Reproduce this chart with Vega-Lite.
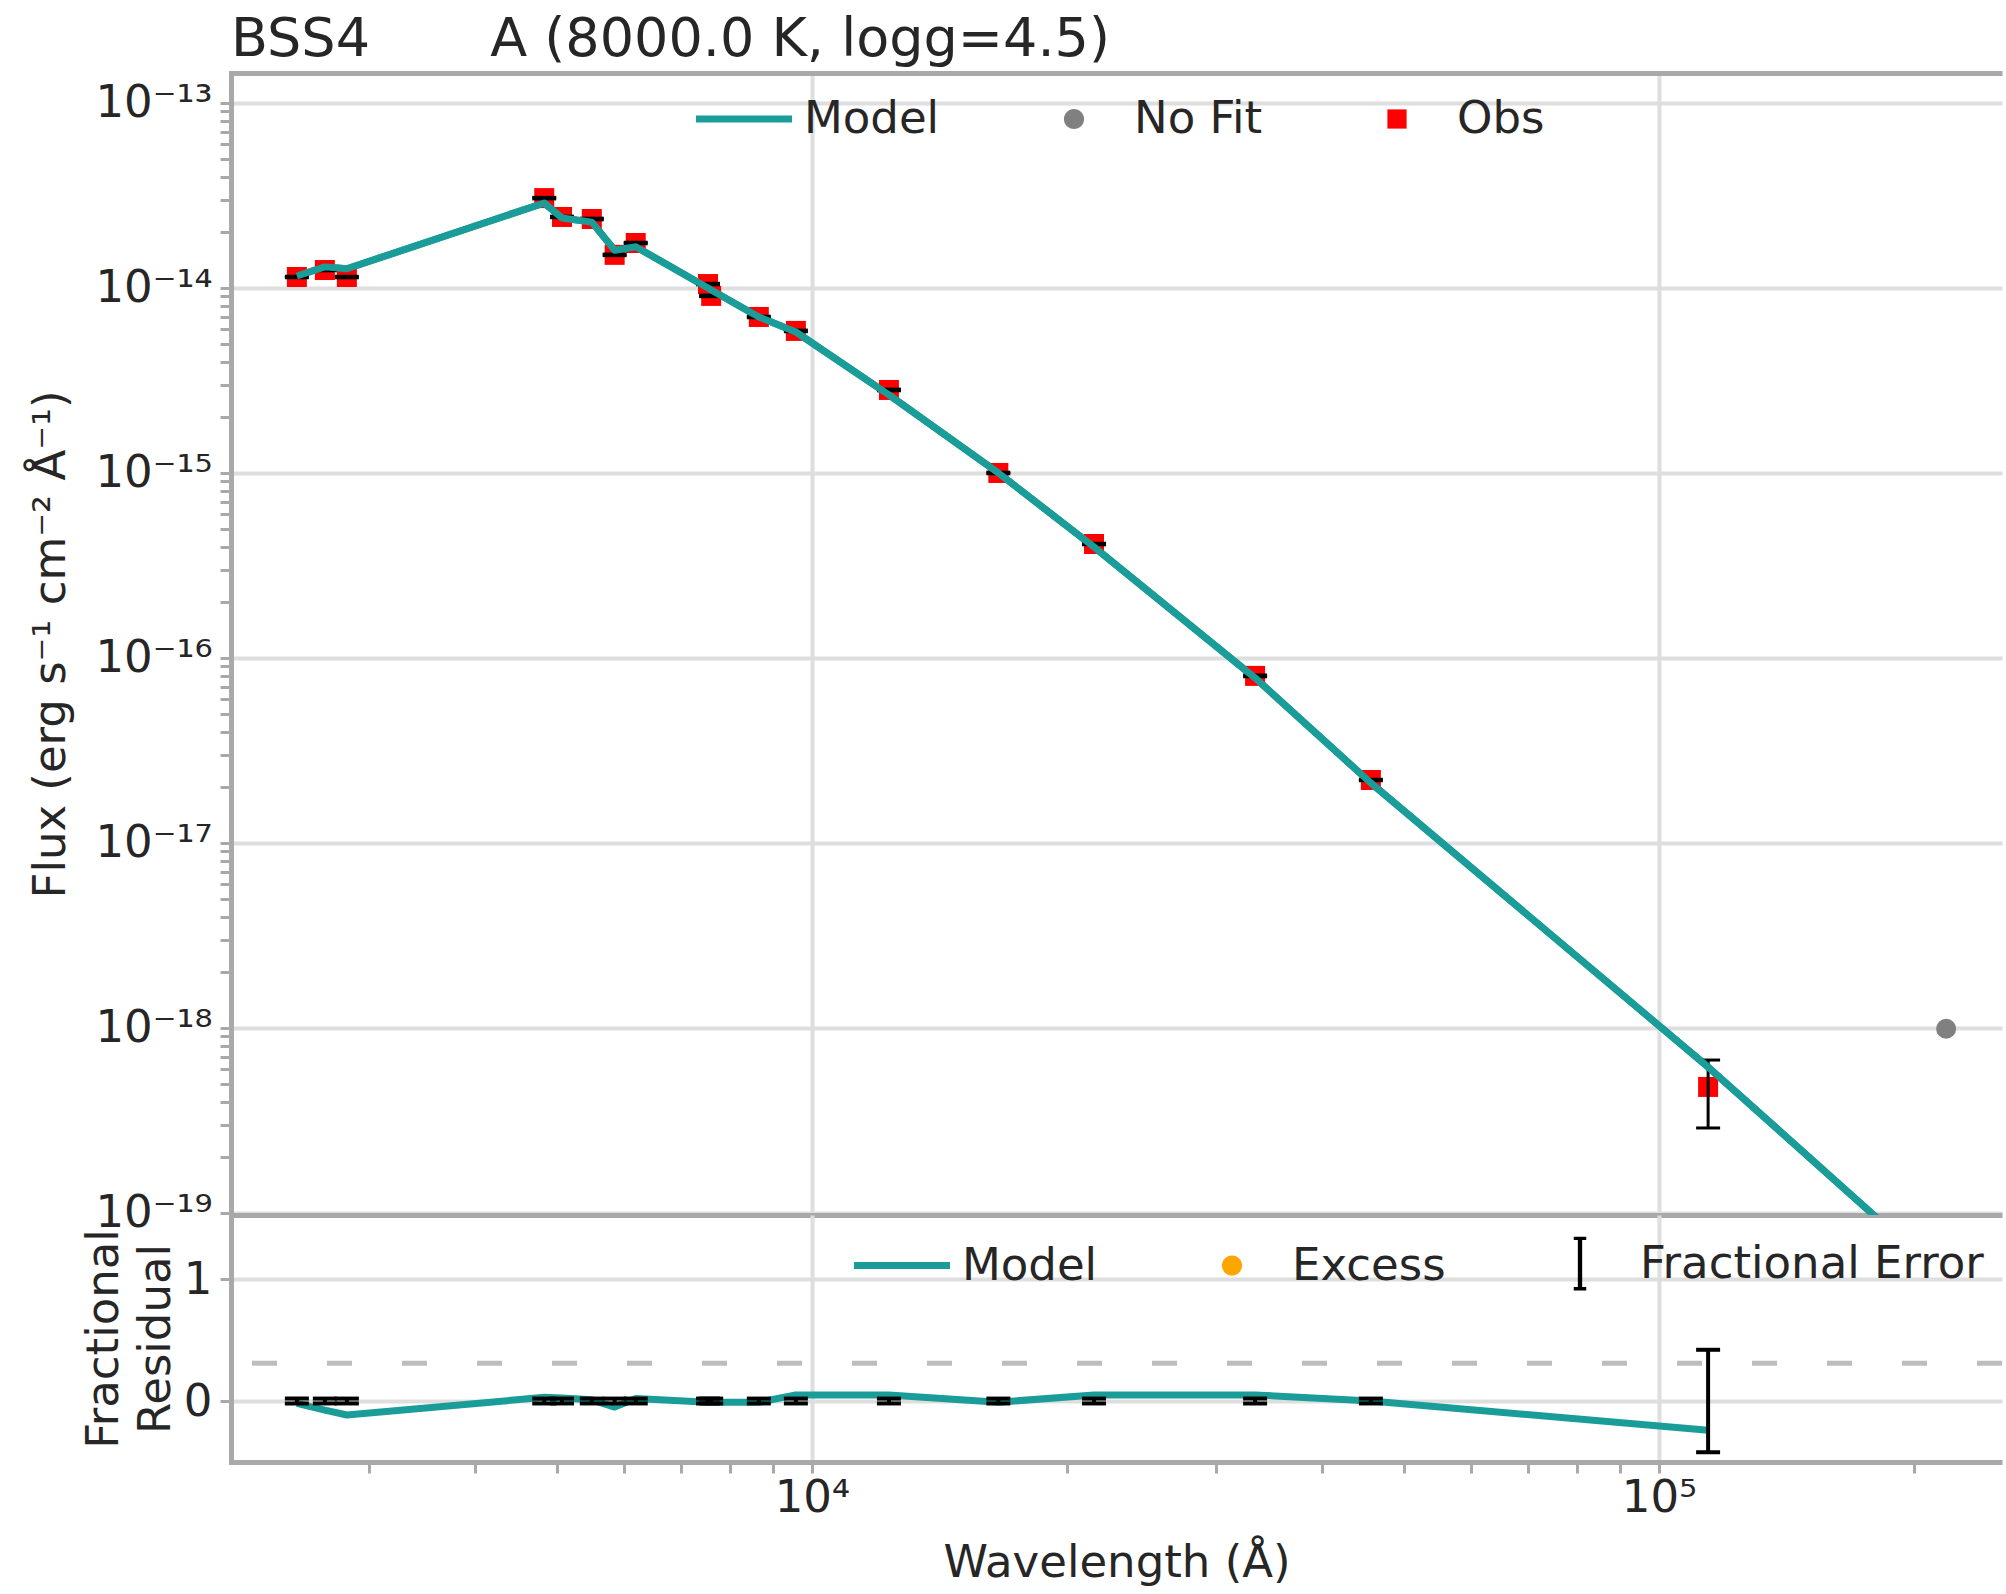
{
  "$schema": "https://vega.github.io/schema/vega-lite/v6.json",
  "autosize": {"type": "pad"},
  "padding": {"left": 28, "top": 13, "right": 3, "bottom": 4},
  "background": "white",
  "spacing": 0,
  "bounds": "flush",
  "config": {
    "font": "DejaVu Sans",
    "view": {"stroke": null},
    "title": {"font": "DejaVu Sans", "fontSize": 54, "fontWeight": "normal", "color": "#262626", "anchor": "start"},
    "axis": {
      "labelFont": "DejaVu Sans", "labelFontSize": 45, "labelColor": "#262626",
      "titleFont": "DejaVu Sans", "titleFontSize": 45, "titleFontWeight": "normal", "titleColor": "#262626",
      "domainColor": "#a9a9a9", "domainWidth": 5,
      "tickColor": "#a9a9a9", "tickWidth": 3, "tickSize": 11,
      "gridColor": "#dedede", "gridWidth": 4,
      "labelFlush": false, "labelOverlap": false, "labelBound": false
    },
    "legend": {"labelFont": "DejaVu Sans", "labelFontSize": 45, "labelColor": "#262626", "labelLimit": 0, "padding": 0}
  },
  "datasets": {
    "obs": [
      {"wl": 2466, "flux": 1.146e-14, "lo": 1.135e-14, "hi": 1.157e-14},
      {"wl": 2661, "flux": 1.25e-14, "lo": 1.238e-14, "hi": 1.262e-14},
      {"wl": 2825, "flux": 1.146e-14, "lo": 1.135e-14, "hi": 1.157e-14},
      {"wl": 4831, "flux": 3.06e-14, "lo": 3.03e-14, "hi": 3.09e-14},
      {"wl": 5070, "flux": 2.42e-14, "lo": 2.396e-14, "hi": 2.444e-14},
      {"wl": 5498, "flux": 2.36e-14, "lo": 2.336e-14, "hi": 2.384e-14},
      {"wl": 5850, "flux": 1.51e-14, "lo": 1.495e-14, "hi": 1.525e-14},
      {"wl": 6195, "flux": 1.75e-14, "lo": 1.733e-14, "hi": 1.767e-14},
      {"wl": 7540, "flux": 1.05e-14, "lo": 1.04e-14, "hi": 1.06e-14},
      {"wl": 7605, "flux": 9.06e-15, "lo": 8.97e-15, "hi": 9.15e-15},
      {"wl": 8657, "flux": 6.97e-15, "lo": 6.90e-15, "hi": 7.04e-15},
      {"wl": 9574, "flux": 5.86e-15, "lo": 5.80e-15, "hi": 5.92e-15},
      {"wl": 12330, "flux": 2.81e-15, "lo": 2.78e-15, "hi": 2.84e-15},
      {"wl": 16600, "flux": 1.0e-15, "lo": 9.9e-16, "hi": 1.01e-15},
      {"wl": 21530, "flux": 4.13e-16, "lo": 4.09e-16, "hi": 4.17e-16},
      {"wl": 33360, "flux": 8.0e-17, "lo": 7.92e-17, "hi": 8.08e-17},
      {"wl": 45700, "flux": 2.19e-17, "lo": 2.17e-17, "hi": 2.21e-17},
      {"wl": 114300, "flux": 4.80e-19, "lo": 2.88e-19, "hi": 6.71e-19}
    ],
    "model": [
      {"wl": 2466, "flux": 1.16e-14},
      {"wl": 2661, "flux": 1.30e-14},
      {"wl": 2825, "flux": 1.27e-14},
      {"wl": 4831, "flux": 2.88e-14},
      {"wl": 5070, "flux": 2.39e-14},
      {"wl": 5498, "flux": 2.27e-14},
      {"wl": 5850, "flux": 1.60e-14},
      {"wl": 6195, "flux": 1.67e-14},
      {"wl": 7540, "flux": 1.0e-14},
      {"wl": 7605, "flux": 9.75e-15},
      {"wl": 8657, "flux": 6.97e-15},
      {"wl": 9574, "flux": 5.78e-15},
      {"wl": 12330, "flux": 2.64e-15},
      {"wl": 16600, "flux": 1.0e-15},
      {"wl": 21530, "flux": 3.98e-16},
      {"wl": 33360, "flux": 7.8e-17},
      {"wl": 45700, "flux": 2.11e-17},
      {"wl": 114300, "flux": 6.15e-19},
      {"wl": 218300, "flux": 4.35e-20}
    ],
    "nofit": [
      {"wl": 218300, "flux": 9.9e-19}
    ],
    "resid": [
      {"wl": 2466, "res": -0.02, "elo": -0.02, "ehi": 0.02},
      {"wl": 2661, "res": -0.075, "elo": -0.02, "ehi": 0.02},
      {"wl": 2825, "res": -0.115, "elo": -0.02, "ehi": 0.02},
      {"wl": 4831, "res": 0.03, "elo": -0.02, "ehi": 0.02},
      {"wl": 5070, "res": 0.025, "elo": -0.02, "ehi": 0.02},
      {"wl": 5498, "res": 0.01, "elo": -0.02, "ehi": 0.02},
      {"wl": 5850, "res": -0.05, "elo": -0.02, "ehi": 0.02},
      {"wl": 6195, "res": 0.02, "elo": -0.02, "ehi": 0.02},
      {"wl": 7540, "res": -0.01, "elo": -0.02, "ehi": 0.02},
      {"wl": 7605, "res": -0.01, "elo": -0.02, "ehi": 0.02},
      {"wl": 8657, "res": -0.01, "elo": -0.02, "ehi": 0.02},
      {"wl": 9574, "res": 0.05, "elo": -0.02, "ehi": 0.02},
      {"wl": 12330, "res": 0.05, "elo": -0.02, "ehi": 0.02},
      {"wl": 16600, "res": -0.01, "elo": -0.02, "ehi": 0.02},
      {"wl": 21530, "res": 0.05, "elo": -0.02, "ehi": 0.02},
      {"wl": 33360, "res": 0.05, "elo": -0.02, "ehi": 0.02},
      {"wl": 45700, "res": 0.0, "elo": -0.02, "ehi": 0.02},
      {"wl": 114300, "res": -0.24, "elo": -0.42, "ehi": 0.42}
    ]
  },
  "resolve": {
    "scale": {"color": "independent", "x": "independent", "y": "independent"},
    "legend": {"color": "independent"}
  },
  "vconcat": [
    {
      "width": 1771,
      "height": 1142,
      "title": {"text": "BSS4\u00a0\u00a0\u00a0\u00a0\u00a0\u00a0\u00a0A (8000.0 K, logg=4.5)", "anchor": "start", "frame": "group", "offset": 4},
      "resolve": {"axis": {"x": "independent", "y": "independent"}},
      "layer": [
        {
          "data": {"name": "model"},
          "mark": {"type": "line", "strokeWidth": 7, "clip": true, "strokeJoin": "round"},
          "encoding": {
            "x": {"field": "wl", "type": "quantitative",
                  "scale": {"type": "log", "domain": [2061.7, 254100], "nice": false},
                  "axis": {"orient": "bottom", "values": [10000, 100000], "labels": false, "ticks": false, "grid": true, "domain": true, "title": null}},
            "y": {"field": "flux", "type": "quantitative",
                  "scale": {"type": "log", "domain": [9.75e-20, 1.452e-13], "nice": false},
                  "axis": null},
            "color": {"datum": "Model", "type": "nominal",
                      "scale": {"domain": ["Model", "No Fit", "Obs"], "range": ["#1a9c98", "#808080", "#ff0000"]},
                      "legend": {
                        "orient": "none", "legendX": 465, "legendY": -2, "direction": "horizontal", "title": null,
                        "columnPadding": 86, "labelOffset": 12, "symbolSize": 9216, "symbolStrokeWidth": 0,
                        "encode": {"symbols": {"update": {
                          "shape": {"signal": "datum.value === 'Model' ? 'M-1,-0.075H1V0.075H-1Z' : datum.value === 'No Fit' ? 'M-0.21,0A0.21,0.21,0,1,1,0.21,0A0.21,0.21,0,1,1,-0.21,0Z' : 'M-0.2,-0.2H0.2V0.2H-0.2Z'"},
                          "fill": {"signal": "datum.value === 'Model' ? '#1a9c98' : datum.value === 'No Fit' ? '#808080' : '#ff0000'"},
                          "stroke": {"value": "transparent"},
                          "strokeWidth": {"value": 0},
                          "size": {"value": 9216},
                          "opacity": {"value": 1},
                          "fillOpacity": {"value": 1}
                        }}}
                      }}
          }
        },
        {
          "data": {"name": "obs"},
          "mark": {"type": "point", "shape": "square", "filled": true, "size": 400, "opacity": 1},
          "encoding": {
            "x": {"field": "wl", "type": "quantitative",
                  "axis": {"orient": "top", "labels": false, "ticks": false, "grid": false, "domain": true, "title": null}},
            "y": {"field": "flux", "type": "quantitative",
                  "axis": {
                    "orient": "left",
                    "values": [1e-19,2e-19,3e-19,4e-19,5e-19,6e-19,7e-19,8e-19,9e-19,
                               1e-18,2e-18,3e-18,4e-18,5e-18,6e-18,7e-18,8e-18,9e-18,
                               1e-17,2e-17,3e-17,4e-17,5e-17,6e-17,7e-17,8e-17,9e-17,
                               1e-16,2e-16,3e-16,4e-16,5e-16,6e-16,7e-16,8e-16,9e-16,
                               1e-15,2e-15,3e-15,4e-15,5e-15,6e-15,7e-15,8e-15,9e-15,
                               1e-14,2e-14,3e-14,4e-14,5e-14,6e-14,7e-14,8e-14,9e-14,1e-13],
                    "labelExpr": "datum.value == 1e-13 ? '10⁻¹³' : datum.value == 1e-14 ? '10⁻¹⁴' : datum.value == 1e-15 ? '10⁻¹⁵' : datum.value == 1e-16 ? '10⁻¹⁶' : datum.value == 1e-17 ? '10⁻¹⁷' : datum.value == 1e-18 ? '10⁻¹⁸' : datum.value == 1e-19 ? '10⁻¹⁹' : ''",
                    "grid": true,
                    "gridOpacity": {"condition": {"test": "indexof([1e-13,1e-14,1e-15,1e-16,1e-17,1e-18,1e-19], datum.value) >= 0", "value": 1}, "value": 0},
                    "labelPadding": 8,
                    "domainCap": "square",
                    "title": "Flux (erg s⁻¹ cm⁻² Å⁻¹)",
                    "titlePadding": 21
                  }},
            "color": {"datum": "Obs", "type": "nominal", "legend": null}
          }
        },
        {
          "data": {"name": "obs"},
          "mark": {"type": "rule", "color": "black", "strokeWidth": 3},
          "encoding": {
            "x": {"field": "wl", "type": "quantitative", "axis": null},
            "y": {"field": "lo", "type": "quantitative", "axis": null},
            "y2": {"field": "hi"}
          }
        },
        {
          "data": {"name": "obs"},
          "mark": {"type": "tick", "orient": "horizontal", "color": "black", "size": 24, "thickness": 3, "opacity": 1},
          "encoding": {
            "x": {"field": "wl", "type": "quantitative", "axis": null},
            "y": {"field": "lo", "type": "quantitative", "axis": null}
          }
        },
        {
          "data": {"name": "obs"},
          "mark": {"type": "tick", "orient": "horizontal", "color": "black", "size": 24, "thickness": 3, "opacity": 1},
          "encoding": {
            "x": {"field": "wl", "type": "quantitative", "axis": null},
            "y": {"field": "hi", "type": "quantitative", "axis": null}
          }
        },
        {
          "data": {"name": "model"},
          "mark": {"type": "line", "strokeWidth": 7, "clip": true, "strokeJoin": "round"},
          "encoding": {
            "x": {"field": "wl", "type": "quantitative", "axis": null},
            "y": {"field": "flux", "type": "quantitative", "axis": null},
            "color": {"datum": "Model", "type": "nominal", "legend": null}
          }
        },
        {
          "data": {"name": "nofit"},
          "mark": {"type": "circle", "size": 400, "opacity": 1},
          "encoding": {
            "x": {"field": "wl", "type": "quantitative", "axis": null},
            "y": {"field": "flux", "type": "quantitative", "axis": null},
            "color": {"datum": "No Fit", "type": "nominal", "legend": null}
          }
        }
      ]
    },
    {
      "width": 1771,
      "height": 247,
      "resolve": {"axis": {"x": "independent", "y": "independent"}},
      "layer": [
        {
          "data": {"values": [{}]},
          "mark": {"type": "rule", "color": "#bdbdbd", "strokeWidth": 5, "strokeDash": [25, 50]},
          "encoding": {"y": {"datum": 0.31, "type": "quantitative", "axis": null}}
        },
        {
          "data": {"name": "resid"},
          "mark": {"type": "line", "strokeWidth": 7, "strokeJoin": "round", "clip": true},
          "encoding": {
            "x": {"field": "wl", "type": "quantitative",
                  "scale": {"type": "log", "domain": [2061.7, 254100], "nice": false},
                  "axis": {
                    "orient": "bottom",
                    "values": [3000,4000,5000,6000,7000,8000,9000,10000,20000,30000,40000,50000,60000,70000,80000,90000,100000,200000],
                    "labelExpr": "datum.value == 10000 ? '10⁴' : datum.value == 100000 ? '10⁵' : ''",
                    "grid": true,
                    "gridOpacity": {"condition": {"test": "datum.value == 10000 || datum.value == 100000", "value": 1}, "value": 0},
                    "labelPadding": 2,
                    "title": "Wavelength (Å)",
                    "titlePadding": 20
                  }},
            "y": {"field": "res", "type": "quantitative",
                  "scale": {"domain": [-0.5, 1.525], "nice": false, "zero": false},
                  "axis": {"orient": "left", "values": [0, 1], "grid": true, "labelPadding": 8, "domainCap": "square",
                           "title": ["Fractional", "Residual"], "titlePadding": 5, "titleLineHeight": 52}},
            "color": {"datum": "Model", "type": "nominal",
                      "scale": {"domain": ["Model", "Excess", "Fractional Error"], "range": ["#1a9c98", "#ffa500", "#000000"]},
                      "legend": {
                        "orient": "none", "legendX": 623, "legendY": 0.5, "direction": "horizontal", "title": null,
                        "columnPadding": 86, "labelOffset": 12, "symbolSize": 9216, "symbolStrokeWidth": 0,
                        "encode": {"symbols": {"update": {
                          "shape": {"signal": "datum.value === 'Model' ? 'M-1,-0.075H1V0.075H-1Z' : datum.value === 'Excess' ? 'M-0.21,0A0.21,0.21,0,1,1,0.21,0A0.21,0.21,0,1,1,-0.21,0Z' : 'M-0.045,-0.52H0.045V0.52H-0.045ZM-0.13,-0.56H0.13V-0.49H-0.13ZM-0.13,0.49H0.13V0.56H-0.13Z'"},
                          "fill": {"signal": "datum.value === 'Model' ? '#1a9c98' : datum.value === 'Excess' ? '#ffa500' : '#000000'"},
                          "stroke": {"value": "transparent"},
                          "strokeWidth": {"value": 0},
                          "size": {"value": 9216},
                          "opacity": {"value": 1},
                          "fillOpacity": {"value": 1}
                        }}}
                      }}
          }
        },
        {
          "data": {"name": "resid"},
          "mark": {"type": "rule", "strokeWidth": 4},
          "encoding": {
            "x": {"field": "wl", "type": "quantitative", "axis": null},
            "y": {"field": "elo", "type": "quantitative", "axis": null},
            "y2": {"field": "ehi"},
            "color": {"datum": "Fractional Error", "type": "nominal", "legend": null}
          }
        },
        {
          "data": {"name": "resid"},
          "mark": {"type": "tick", "orient": "horizontal", "color": "black", "size": 24, "thickness": 4, "opacity": 1},
          "encoding": {
            "x": {"field": "wl", "type": "quantitative", "axis": null},
            "y": {"field": "elo", "type": "quantitative", "axis": null}
          }
        },
        {
          "data": {"name": "resid"},
          "mark": {"type": "tick", "orient": "horizontal", "color": "black", "size": 24, "thickness": 4, "opacity": 1},
          "encoding": {
            "x": {"field": "wl", "type": "quantitative", "axis": null},
            "y": {"field": "ehi", "type": "quantitative", "axis": null}
          }
        }
      ]
    }
  ]
}
